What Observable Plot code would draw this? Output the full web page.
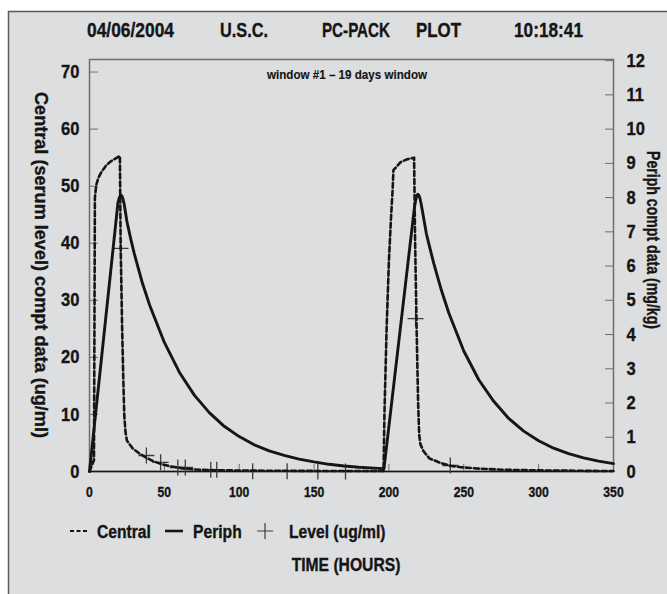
<!DOCTYPE html>
<html><head><meta charset="utf-8">
<script src="https://cdn.jsdelivr.net/npm/d3@7"></script>
<script src="https://cdn.jsdelivr.net/npm/@observablehq/plot@0.6"></script>
<style>
html,body{margin:0;padding:0;background:#fff;}
#chart{position:relative;width:667px;height:594px;overflow:hidden;}
#chart svg text{font-weight:bold;stroke:#151515;stroke-width:0.35px;}
</style></head><body><div id="chart"></div>
<script>
// ---------- data ----------
// Central compartment (serum level), ug/ml
const centralTime  = [0, 3, 3.6, 4.5, 6, 8, 11, 14, 17, 20.3, 20.8, 21.8, 22.6, 23.2, 24, 25, 29, 33.6, 38, 42.7, 48, 54, 62, 70, 85, 110, 150, 196.4,
                      197, 198.4, 200, 201.5, 202.5, 203, 207.8, 212, 216.8, 217.5, 218.5, 219.5, 220.2, 221, 223, 227, 234.5, 241, 248, 260, 276, 300, 330, 350];
const centralLevel = [0, 2, 48, 50.2, 51.5, 52.5, 53.6, 54.3, 54.8, 55.3, 40, 25, 16, 10, 7, 5.4, 4.0, 3.1, 2.4, 1.8, 1.3, 0.9, 0.55, 0.35, 0.22, 0.15, 0.1, 0.08,
                      10, 24.7, 37, 45, 49.5, 52.8, 54.2, 54.7, 55.0, 40, 25, 12, 6.5, 4.8, 3.6, 2.3, 1.5, 1.0, 0.75, 0.5, 0.3, 0.2, 0.12, 0.08];
// Peripheral compartment, mg/kg
const periphTime  = [0, 19.0, 19.8, 20.5, 21.1, 21.7, 22.4, 23.2, 25, 27.5, 30, 35, 40, 50, 60, 70, 80, 90, 100, 110, 120, 130, 140, 150, 160, 170, 180, 190, 196.7,
                     217.0, 217.9, 218.6, 219.3, 220.0, 220.7, 221.6, 223, 225, 227.5, 230, 235, 240, 250, 260, 270, 280, 290, 300, 310, 320, 330, 340, 350];
const periphLevel = [0, 7.85, 7.98, 8.05, 8.07, 8.04, 7.95, 7.8, 7.3, 6.8, 6.35, 5.55, 4.88, 3.77, 2.9, 2.23, 1.72, 1.32, 1.02, 0.78, 0.6, 0.47, 0.36, 0.28, 0.21, 0.16, 0.125, 0.1, 0.085,
                     7.7, 7.93, 8.05, 8.1, 8.07, 7.98, 7.8, 7.45, 6.95, 6.5, 6.07, 5.3, 4.63, 3.52, 2.68, 2.05, 1.55, 1.18, 0.9, 0.68, 0.525, 0.4, 0.305, 0.232];
// Observed serum levels, ug/ml
const levelTime = [20.7, 38, 47.5, 59, 64, 81, 85, 109, 132, 152.5, 171, 217.8, 241];
const levelObs  = [39.1, 2.8, 1.6, 0.7, 0.7, 0.3, 0.3, 0.05, 0.05, 0.02, 0.02, 26.8, 1.05];

// axes
const xTicks = [0, 50, 100, 150, 200, 250, 300, 350];
const leftTicks = [0, 10, 20, 30, 40, 50, 60, 70];
const rightTicks = [0, 1, 2, 3, 4, 5, 6, 7, 8, 9, 10, 11, 12];
const periphScale = 6; // 1 mg/kg on the right axis = 6 ug/ml on the left axis

// texts
const headerLabels = ["04/06/2004", "U.S.C.", "PC-PACK", "PLOT", "10:18:41"];
const windowLabel = "window #1 \u2013 19 days window";
const leftTitle = "Central (serum level) compt data (ug/ml)";
const rightTitle = "Periph compt data (mg/kg)";
const xTitle = "TIME (HOURS)";
const legendLabels = ["Central", "Periph", "Level (ug/ml)"];

// ---------- layout ----------
const headerX = [87, 220, 322, 416, 514];
const headerW = [87, 48, 68, 45, 69];
const FONT = "'Liberation Sans', Arial, Helvetica, sans-serif";
const SQUEEZE = 0.87; // condensed look

// ---------- build ----------
const central = centralTime.map((t, i) => ({t, v: centralLevel[i]}));
const periph = periphTime.map((t, i) => ({t, v: periphLevel[i]}));
const levels = levelTime.map((t, i) => ({t, v: levelObs[i]}));

const crossSymbol = {
  draw(context, size) {
    const r = Math.sqrt(size / Math.PI);
    context.moveTo(-r, 0); context.lineTo(r, 0);
    context.moveTo(0, -r); context.lineTo(0, r);
  }
};

const W = 667, H = 594;
const ink = "#151515";
const axisGray = "#6e6e6e";
const chart = Plot.plot({
  width: W, height: H,
  marginLeft: 89, marginRight: 54, marginTop: 59, marginBottom: 123,
  style: {background: "transparent", fontFamily: FONT, color: ink, overflow: "visible"},
  x: {domain: [0, 350]},
  y: {domain: [0, 72.2]},
  marks: [
    Plot.frame({stroke: axisGray, strokeWidth: 1.5}),
    Plot.axisY(leftTicks, {anchor: "left", tickSize: -9, tickPadding: 19, fontSize: 19, fontWeight: "bold", stroke: axisGray, label: null}),
    Plot.axisY(rightTicks.map(d => d * periphScale), {anchor: "right", tickSize: -9, tickPadding: 22, tickFormat: d => String(Math.round(d / periphScale)), fontSize: 19, fontWeight: "bold", stroke: axisGray, label: null}),
    Plot.axisX(xTicks, {anchor: "bottom", tickSize: -7, tickPadding: 23, fontSize: 14, fontWeight: "bold", stroke: axisGray, label: null}),
    Plot.ruleY([0], {stroke: ink, strokeWidth: 1.6}),
    Plot.dot(levels, {x: "t", y: "v", symbol: crossSymbol, r: 8, stroke: "#3c3c3c", strokeWidth: 1.3, fill: "none"}),
    Plot.line(periph, {x: "t", y: d => d.v * periphScale, stroke: ink, strokeWidth: 2.9}),
    Plot.line(central, {x: "t", y: "v", stroke: ink, strokeWidth: 2.6, strokeDasharray: "5,3"})
  ]
});

const svg = d3.select(chart);
// condensed tick labels
svg.selectAll("g[aria-label$='tick label'] text").each(function() {
  const t = this.getAttribute("transform") || "";
  this.setAttribute("transform", t + ` scale(${SQUEEZE},1)`);
});
// panel background
svg.insert("rect", ":first-child")
  .attr("x", 8.5).attr("y", 11.5).attr("width", 700).attr("height", 600)
  .attr("fill", "#dddee0").attr("stroke", "#5a5a5a").attr("stroke-width", 1.5);

const g = svg.append("g").attr("font-family", FONT).attr("font-weight", "bold").attr("fill", ink).attr("text-anchor", "start");
function label(x, y, s, size, opts = {}) {
  const t = g.append("text").attr("font-size", size).text(s);
  if (opts.rotate) t.attr("transform", `translate(${x},${y}) rotate(${opts.rotate})`);
  else t.attr("transform", `translate(${x},${y}) scale(${SQUEEZE},1)`);
  if (opts.anchor) t.attr("text-anchor", opts.anchor);
  if (opts.length) t.attr("textLength", opts.length).attr("lengthAdjust", "spacingAndGlyphs");
  if (opts.thin) t.style("stroke-width", "0.15px");
  return t;
}
// header
headerLabels.forEach((s, i) => label(headerX[i], 37, s, 20, {length: headerW[i] / SQUEEZE}));
// window label
label(347, 79, windowLabel, 12.5, {anchor: "middle", length: 160 / SQUEEZE, thin: true});
// axis titles
label(35, 265, leftTitle, 18, {rotate: 90, anchor: "middle", length: 346});
label(647, 240, rightTitle, 18, {rotate: 90, anchor: "middle", length: 178});
// x title
label(346, 571, xTitle, 18, {anchor: "middle"});
// legend
const ly = 531;
g.append("line").attr("x1", 70).attr("x2", 87).attr("y1", ly).attr("y2", ly).attr("stroke", ink).attr("stroke-width", 2).attr("stroke-dasharray", "4,2.5");
label(97, ly + 7, legendLabels[0], 18);
g.append("line").attr("x1", 165).attr("x2", 183).attr("y1", ly).attr("y2", ly).attr("stroke", ink).attr("stroke-width", 2.6);
label(193, ly + 7, legendLabels[1], 18);
g.append("path").attr("d", `M257,${ly}H273M265,${ly-8}V${ly+8}`).attr("stroke", "#3c3c3c").attr("stroke-width", 1.2).attr("fill", "none");
label(289, ly + 7, legendLabels[2], 18);

document.getElementById("chart").appendChild(chart);
</script></body></html>
